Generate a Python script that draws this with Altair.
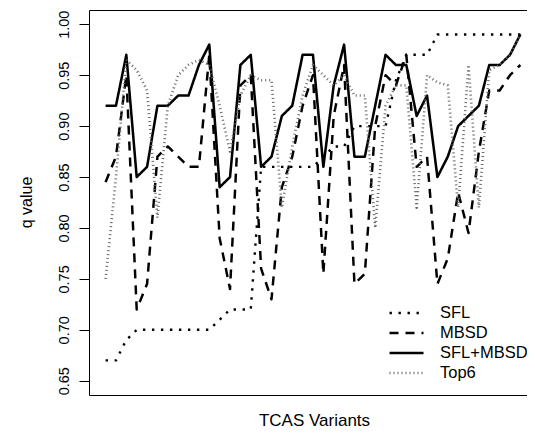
import altair as alt
import pandas as pd

variants = list(range(1, 42))
series_names = ["SFL", "MBSD", "SFL+MBSD", "Top6"]

sfl = [0.67, 0.67, 0.69, 0.70, 0.70, 0.70, 0.70, 0.70, 0.70, 0.70,
       0.70, 0.71, 0.72, 0.72, 0.72, 0.86, 0.86, 0.86, 0.86, 0.86,
       0.86, 0.87, 0.88, 0.88, 0.90, 0.90, 0.90, 0.90, 0.945, 0.97,
       0.97, 0.97, 0.99, 0.99, 0.99, 0.99, 0.99, 0.99, 0.99, 0.99, 0.99]

mbsd = [0.845, 0.87, 0.95, 0.72, 0.745, 0.87, 0.88, 0.87, 0.86, 0.86,
        0.97, 0.79, 0.74, 0.94, 0.95, 0.76, 0.73, 0.84, 0.87, 0.92,
        0.95, 0.755, 0.91, 0.96, 0.745, 0.755, 0.90, 0.95, 0.94, 0.97,
        0.86, 0.87, 0.745, 0.77, 0.835, 0.795, 0.875, 0.935, 0.935, 0.95, 0.96]

combo = [0.92, 0.92, 0.97, 0.85, 0.86, 0.92, 0.92, 0.93, 0.93, 0.96,
         0.98, 0.84, 0.85, 0.96, 0.97, 0.86, 0.87, 0.91, 0.92, 0.97,
         0.97, 0.86, 0.94, 0.98, 0.87, 0.87, 0.92, 0.97, 0.96, 0.96,
         0.91, 0.93, 0.85, 0.87, 0.90, 0.91, 0.92, 0.96, 0.96, 0.97, 0.99]

top6 = [0.75, 0.85, 0.965, 0.955, 0.935, 0.81, 0.92, 0.95, 0.96, 0.965,
        0.96, 0.92, 0.875, 0.93, 0.95, 0.945, 0.945, 0.82, 0.88, 0.93,
        0.96, 0.95, 0.94, 0.95, 0.93, 0.93, 0.80, 0.92, 0.94, 0.94,
        0.82, 0.95, 0.943, 0.94, 0.82, 0.96, 0.82, 0.955, 0.96, 0.97, 0.99]

y_ticks = [0.65, 0.70, 0.75, 0.80, 0.85, 0.90, 0.95, 1.00]

rows = []
for name, vals in zip(series_names, [sfl, mbsd, combo, top6]):
    for v, q in zip(variants, vals):
        rows.append({"variant": v, "q": q, "series": name})
df = pd.DataFrame(rows)

FONT = "Liberation Sans"
dash_range = [[2.4, 6.6], [9, 7], [1, 0], [1, 3]]
width_range = [2.4, 2.6, 3.6, 1.0]
color_range = ["black", "black", "black", "#666666"]

legend = alt.Legend(
    title=None, orient="none", legendX=299, legendY=294.5,
    symbolType="stroke", symbolSize=1156, clipHeight=17,
    labelFont=FONT, labelFontSize=16.5,
    labelColor="black", labelOffset=15, rowPadding=3, padding=0,
)

xscale = alt.Scale(domain=[-0.6, 41.64], nice=False, zero=False)
yscale = alt.Scale(domain=[0.636, 1.014], nice=False, zero=False)

y_axis = alt.Axis(title="q value", values=y_ticks, format=".2f", grid=False,
                  labelAngle=-90, labelAlign="center", labelBaseline="alphabetic",
                  labelFont=FONT, labelFontSize=14.5, labelColor="black",
                  labelPadding=11, tickSize=10, tickColor="black",
                  domainColor="black", domainWidth=1,
                  titleFont=FONT, titleFontSize=16, titleFontWeight="normal",
                  titleColor="black", titleBaseline="alphabetic",
                  titleX=-58, titleY=192)

lines = alt.Chart(df).mark_line(strokeCap="butt", strokeJoin="round").encode(
    x=alt.X("variant:Q", scale=xscale,
            axis=alt.Axis(title="TCAS Variants", labels=False, ticks=False, grid=False,
                          domainColor="black", domainWidth=1,
                          titleFont=FONT, titleFontSize=17, titleFontWeight="normal",
                          titleColor="black", titleBaseline="alphabetic",
                          titleX=225, titleY=30)),
    y=alt.Y("q:Q", scale=yscale, axis=y_axis),
    strokeDash=alt.StrokeDash("series:N", scale=alt.Scale(domain=series_names, range=dash_range), legend=legend),
    strokeWidth=alt.StrokeWidth("series:N", scale=alt.Scale(domain=series_names, range=width_range), legend=legend),
    color=alt.Color("series:N", scale=alt.Scale(domain=series_names, range=color_range), legend=legend),
    order=alt.Order("variant:Q"),
)

top = alt.Chart(df).mark_point(opacity=0).encode(
    x=alt.X("variant:Q", scale=xscale,
            axis=alt.Axis(orient="top", title=None, labels=False, ticks=False, grid=False,
                          domainColor="black", domainWidth=1)),
    y=alt.Y("q:Q", scale=yscale, axis=y_axis),
)

chart = alt.layer(lines, top).resolve_axis(x="independent").properties(
    width=438, height=385,
    autosize=alt.AutoSizeParams(type="none"),
    padding={"left": 81, "top": 2, "right": 0, "bottom": 36},
).configure_view(stroke=None)

chart.save("out.html", embed_options={"renderer": "svg", "actions": False})
